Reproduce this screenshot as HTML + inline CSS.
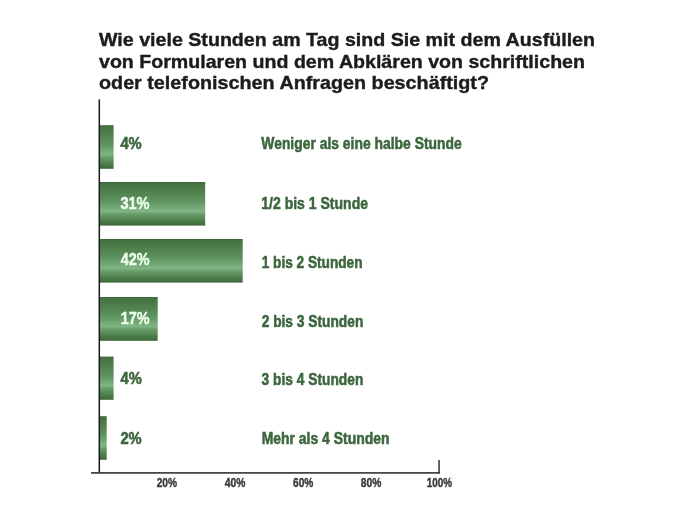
<!DOCTYPE html>
<html lang="de">
<head>
<meta charset="utf-8">
<title>Umfrage</title>
<style>
html,body{margin:0;padding:0;background:#fff;}
body{width:696px;height:514px;overflow:hidden;position:relative;}
svg{position:absolute;left:0;top:0;display:block;}
text{font-family:"Liberation Sans",sans-serif;font-weight:bold;}
.t{font-size:19px;fill:#1c1c1c;stroke:#1c1c1c;stroke-width:0.4px;}
.l{font-size:16.3px;fill:#3c663d;stroke:#3c663d;stroke-width:0.55px;}
.p{font-size:16.3px;fill:#3c663d;stroke:#3c663d;stroke-width:0.6px;}
.pw{font-size:16.3px;fill:#ebfdeb;stroke:#ebfdeb;stroke-width:0.5px;}
.a{font-size:12px;fill:#3a3a3a;stroke:#3a3a3a;stroke-width:0.4px;}
</style>
</head>
<body>
<svg width="696" height="514" viewBox="0 0 696 514">
<defs>
<linearGradient id="g" x1="0" y1="0" x2="0" y2="1">
<stop offset="0" stop-color="#3d653a"/>
<stop offset="0.04" stop-color="#467342"/>
<stop offset="0.14" stop-color="#4b7a46"/>
<stop offset="0.45" stop-color="#5f9460"/>
<stop offset="0.62" stop-color="#7aad7d"/>
<stop offset="0.67" stop-color="#82b585"/>
<stop offset="0.74" stop-color="#679d69"/>
<stop offset="0.90" stop-color="#4b7b48"/>
<stop offset="0.96" stop-color="#44713f"/>
<stop offset="1" stop-color="#3c653a"/>
</linearGradient>
</defs>
<rect width="696" height="514" fill="#fff"/>
<!-- title -->
<text class="t" x="99" y="46.3" textLength="496" lengthAdjust="spacingAndGlyphs">Wie viele Stunden am Tag sind Sie mit dem Ausfüllen</text>
<text class="t" x="99" y="67.7" textLength="486" lengthAdjust="spacingAndGlyphs">von Formularen und dem Abklären von schriftlichen</text>
<text class="t" x="99" y="88.7" textLength="390" lengthAdjust="spacingAndGlyphs">oder telefonischen Anfragen beschäftigt?</text>
<!-- bars -->
<rect x="100" y="125.2" width="13.6" height="43.6" fill="url(#g)"/>
<rect x="100" y="182" width="105.2" height="43.6" fill="url(#g)"/>
<rect x="100" y="239" width="142.7" height="43.6" fill="url(#g)"/>
<rect x="100" y="297" width="57.7" height="43.8" fill="url(#g)"/>
<rect x="100" y="356.6" width="13.6" height="43.2" fill="url(#g)"/>
<rect x="100" y="416.2" width="6.7" height="43.6" fill="url(#g)"/>
<!-- axes -->
<rect x="98.55" y="99.3" width="1.5" height="373.5" fill="#1a1a1a"/>
<rect x="91" y="472.1" width="348.8" height="1.6" fill="#333"/>
<rect x="438.3" y="460" width="1.5" height="13.5" fill="#333"/>
<!-- percent values -->
<text class="p" x="120.4" y="148.7" textLength="21.3" lengthAdjust="spacingAndGlyphs">4%</text>
<text class="pw" x="120.4" y="208.9" textLength="29.2" lengthAdjust="spacingAndGlyphs">31%</text>
<text class="pw" x="120.8" y="264.8" textLength="28.8" lengthAdjust="spacingAndGlyphs">42%</text>
<text class="pw" x="120.8" y="324.3" textLength="28.8" lengthAdjust="spacingAndGlyphs">17%</text>
<text class="p" x="120.5" y="383.8" textLength="21.2" lengthAdjust="spacingAndGlyphs">4%</text>
<text class="p" x="120.4" y="444" textLength="21.3" lengthAdjust="spacingAndGlyphs">2%</text>
<!-- category labels -->
<text class="l" x="261.3" y="148.7" textLength="200.4" lengthAdjust="spacingAndGlyphs">Weniger als eine halbe Stunde</text>
<text class="l" x="261.3" y="208.9" textLength="106.7" lengthAdjust="spacingAndGlyphs">1/2 bis 1 Stunde</text>
<text class="l" x="261.7" y="267.5" textLength="100.8" lengthAdjust="spacingAndGlyphs">1 bis 2 Stunden</text>
<text class="l" x="261.7" y="327" textLength="101.6" lengthAdjust="spacingAndGlyphs">2 bis 3 Stunden</text>
<text class="l" x="261.5" y="384.9" textLength="101.8" lengthAdjust="spacingAndGlyphs">3 bis 4 Stunden</text>
<text class="l" x="261.7" y="443.5" textLength="127.8" lengthAdjust="spacingAndGlyphs">Mehr als 4 Stunden</text>
<!-- axis labels -->
<text class="a" x="156.7" y="487" textLength="20.3" lengthAdjust="spacingAndGlyphs">20%</text>
<text class="a" x="224.7" y="487" textLength="20.6" lengthAdjust="spacingAndGlyphs">40%</text>
<text class="a" x="293" y="487" textLength="20.3" lengthAdjust="spacingAndGlyphs">60%</text>
<text class="a" x="360.8" y="487" textLength="20.5" lengthAdjust="spacingAndGlyphs">80%</text>
<text class="a" x="426.8" y="486.8" textLength="25.3" lengthAdjust="spacingAndGlyphs">100%</text>
</svg>
</body>
</html>
